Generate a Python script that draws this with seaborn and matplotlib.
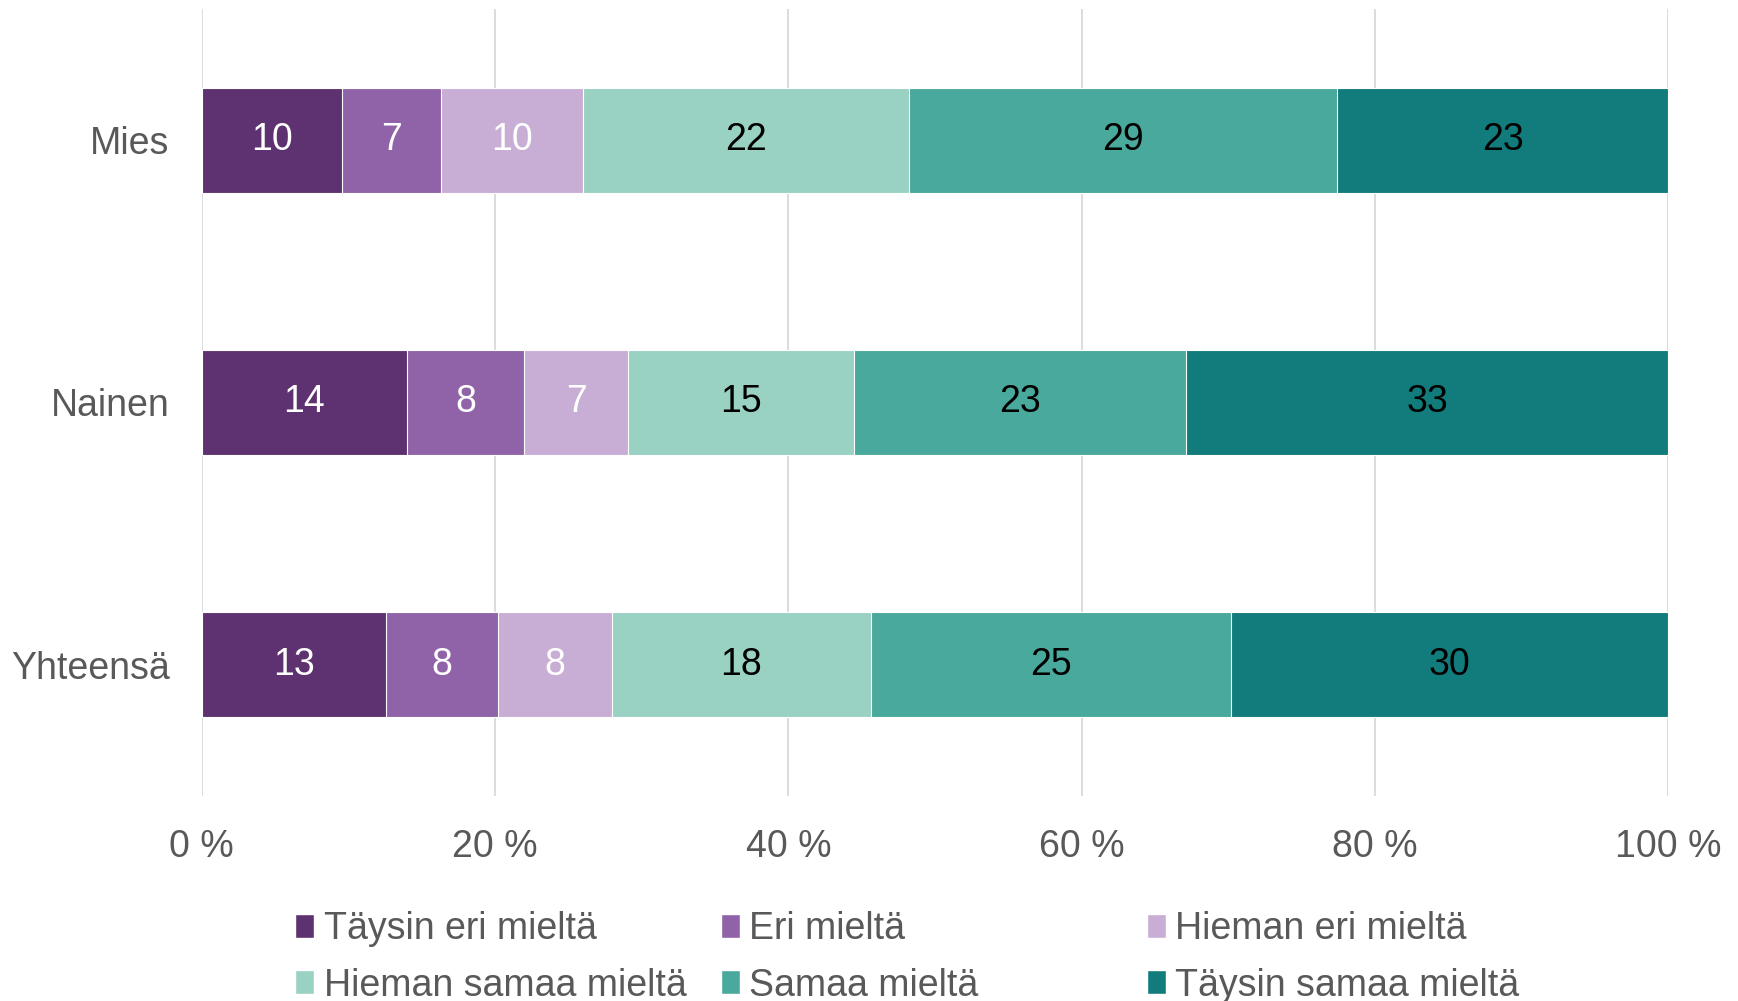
import numpy as np
import pandas as pd
import matplotlib
matplotlib.use('Agg')
import matplotlib.pyplot as plt
import seaborn as sns
from matplotlib.patches import Patch

# data (percent shares)
groups = ['Mies', 'Nainen', 'Yhteensä']
answers = ['Täysin eri mieltä', 'Eri mieltä', 'Hieman eri mieltä',
           'Hieman samaa mieltä', 'Samaa mieltä', 'Täysin samaa mieltä']
taysin_eri = [9.6, 14.0, 12.6]
eri = [6.7, 8.0, 7.6]
hieman_eri = [9.7, 7.1, 7.8]
hieman_samaa = [22.2, 15.4, 17.6]
samaa = [29.2, 22.6, 24.6]
taysin_samaa = [22.6, 32.9, 29.8]
x_ticks = [0, 20, 40, 60, 80, 100]

colors = ['#5E3270', '#9063A8', '#C8AED4', '#99D1C3', '#49A99C', '#127C7C']
label_colors = ['white', 'white', 'white', 'black', 'black', 'black']
grey = '#595959'

sns.set_theme(style='white')
plt.rcParams['font.family'] = ['Liberation Sans', 'DejaVu Sans']

series = [taysin_eri, eri, hieman_eri, hieman_samaa, samaa, taysin_samaa]
df = pd.DataFrame({
    'group': groups * len(answers),
    'answer': np.repeat(answers, len(groups)),
    'value': np.concatenate(series),
})
df['cum'] = df.groupby('group', sort=False)['value'].cumsum()

fig = plt.figure(figsize=(17.38, 10.01), dpi=100)
ax = fig.add_axes([0.116, 0.205, 0.844, 0.786])

# stacked bars: draw cumulative totals from the last answer back to the first
for ans, col in reversed(list(zip(answers, colors))):
    sub = df[df['answer'] == ans]
    sns.barplot(data=sub, x='cum', y='group', order=groups, orient='h',
                color=col, width=0.4, edgecolor='white', linewidth=0.8,
                saturation=1, ax=ax)

for ans, tc in zip(answers, label_colors):
    sub = df[df['answer'] == ans]
    for _, r in sub.iterrows():
        ax.text(r['cum'] - r['value'] / 2, groups.index(r['group']),
                f"{r['value']:.0f}", ha='center', va='center',
                fontsize=27, color=tc)

ax.set_xlim(0, 100)
ax.set_xticks(x_ticks)
ax.set_xticklabels([f'{t} %' for t in x_ticks])
ax.set_xlabel('')
ax.set_ylabel('')
ax.grid(axis='x', color='#D9D9D9', lw=1.3)
ax.set_axisbelow(True)
sns.despine(ax=ax, left=True, bottom=True)
ax.tick_params(axis='x', length=0, pad=24, labelsize=27, labelcolor=grey)
ax.tick_params(axis='y', length=0, pad=23, labelsize=27, labelcolor=grey)

# legend: three equal-width columns like the original
col_x = [0.170, 0.415, 0.660]
for i in range(3):
    handles = [Patch(facecolor=colors[i]), Patch(facecolor=colors[i + 3])]
    fig.legend(handles, [answers[i], answers[i + 3]], loc='upper left',
               bbox_to_anchor=(col_x[i], 0.090), frameon=False, ncol=1,
               fontsize=27, labelcolor=grey, handlelength=0.5,
               handleheight=0.62, handletextpad=0.25, labelspacing=0.55,
               borderaxespad=0, borderpad=0)

fig.savefig('out.png', dpi=100)
